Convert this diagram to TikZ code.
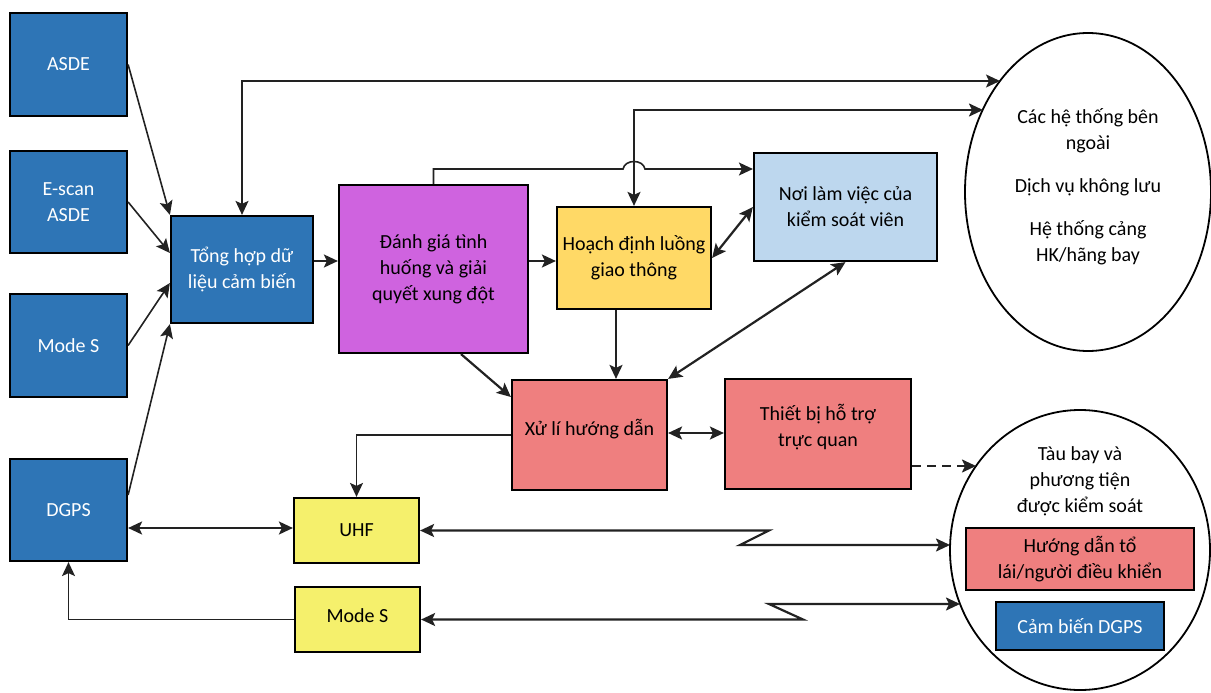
\documentclass[tikz,border=0pt]{standalone}
\usepackage{fontspec}
\setmainfont{Carlito}
\usetikzlibrary{arrows.meta,shapes.geometric,calc}
\definecolor{cblue}{HTML}{2E75B6}
\definecolor{cpurple}{HTML}{CF63DF}
\definecolor{corange}{HTML}{FFD966}
\definecolor{clight}{HTML}{BDD7EE}
\definecolor{csalmon}{HTML}{EF7F7F}
\definecolor{cyellow}{HTML}{F5F06C}
\definecolor{cline}{HTML}{222222}
\begin{document}
\begin{tikzpicture}[x=1pt,y=-1pt,
  >={Stealth[length=14pt,width=13pt,inset=3pt]},
  box/.style={draw=black, line width=2.2pt, inner sep=0pt, align=center,
    font=\fontsize{20}{26}\selectfont},
  bluebox/.style={box, fill=cblue, text=white},
  oval/.style={draw=black, ellipse, line width=1.8pt, inner sep=0pt},
  txt/.style={align=center, font=\fontsize{20}{26}\selectfont, inner sep=0pt},
  conn/.style={draw=cline, line width=2.2pt},
  thinconn/.style={draw=cline, line width=1.6pt}]
\useasboundingbox (0,0) rectangle (1211,693);

% left sensor boxes
\node[bluebox, minimum width=117pt, minimum height=103pt] (asde) at (68.5,64.5) {ASDE};
\node[bluebox, minimum width=117pt, minimum height=102pt] (escan) at (68.5,202) {E-scan\\ASDE};
\node[bluebox, minimum width=117pt, minimum height=103pt] (modesL) at (68.5,345.5) {Mode S};
\node[bluebox, minimum width=117pt, minimum height=102pt] (dgps) at (68.5,510) {DGPS};

% processing boxes
\node[bluebox, minimum width=142pt, minimum height=107pt] (tong) at (242,269.5) {Tổng hợp dữ\\liệu cảm biến};
\node[box, fill=cpurple, minimum width=189pt, minimum height=168pt] (danhgia) at (433.5,269) {Đánh giá tình\\huống và giải\\quyết xung đột};
\node[box, fill=corange, minimum width=154pt, minimum height=102pt] (hoach) at (634,258) {Hoạch định luồng\\giao thông};
\node[box, fill=clight, minimum width=183pt, minimum height=108pt] (noi) at (845.5,207) {Nơi làm việc của\\kiểm soát viên};
\node[box, fill=csalmon, minimum width=155pt, minimum height=110pt, text depth=16pt] (xuli) at (589.5,435) {Xử lí hướng dẫn};
\node[box, fill=csalmon, minimum width=186pt, minimum height=110pt, text depth=18pt] (thietbi) at (818,434) {Thiết bị hỗ trợ\\trực quan};
\node[box, fill=cyellow, minimum width=125pt, minimum height=65pt] (uhf) at (356.5,530.5) {UHF};
\node[box, fill=cyellow, minimum width=125pt, minimum height=65pt, text depth=8pt] (modesB) at (357.5,619.5) {Mode S};

% external ellipses
\node[oval, minimum width=246pt, minimum height=318pt] (ext) at (1088,192) {};
\node[txt] (exttext) at (1088,187) {Các hệ thống bên\\ngoài\\[17pt]Dịch vụ không lưu\\[17pt]Hệ thống cảng\\HK/hãng bay};
\node[oval, minimum width=260pt, minimum height=280pt] (veh) at (1080,550) {};
\node[txt] (vehtext) at (1080,481) {Tàu bay và\\phương tiện\\được kiểm soát};
\node[box, fill=csalmon, minimum width=228pt, minimum height=62pt] (huong) at (1080,559) {Hướng dẫn tổ\\lái/người điều khiển};
\node[bluebox, minimum width=168pt, minimum height=48pt] (cambien) at (1080,626) {Cảm biến DGPS};

% connection points on the ellipses
\coordinate (e1) at (1000,81);
\coordinate (e2) at (983,110);
\coordinate (e3) at (976,466);
\coordinate (e4) at (950,545);
\coordinate (e5) at (960,604);

% sensor inputs
\draw[thinconn,->] (asde.east) -- (tong.north west);
\draw[thinconn,->] (escan.east) -- ($(tong.west)+(0,-16.5)$);
\draw[thinconn,->] (modesL.east) -- ($(tong.west)+(0,13.5)$);
\draw[thinconn,->] ($(dgps.east)+(0,-15)$) -- (tong.south west);

% top links
\draw[thinconn,<->] (tong.north) |- (e1);
\draw[conn,<->] (hoach.north) |- (e2);
\draw[thinconn,->] (danhgia.north) -- (433.5,169) -- (623,169)
  .. controls (625,159) and (643,159) .. (645,169) -- ($(noi.west)+(0,-38)$);

% main flow
\draw[conn,->] ($(tong.east)+(0,-8.5)$) coordinate (t9) -- (t9 -| danhgia.west);
\draw[conn,->] ($(danhgia.east)+(0,-8)$) coordinate (t8) -- (t8 -| hoach.west);
\draw[conn,<->] (hoach.east) -- (noi.west);
\draw[conn,->] ($(hoach.south)+(-18,0)$) coordinate (t11) -- (t11 |- xuli.north);
\draw[conn,<->] (noi.south) -- (xuli.north east);
\draw[conn,->] ($(danhgia.south)+(27.5,0)$) -- ($(xuli.west)+(0,-38)$);
\draw[conn,<->] ($(xuli.east)+(0,-2)$) coordinate (t14) -- (t14 -| thietbi.west);
\draw[thinconn,->] (xuli.west) -| (uhf.north);
\draw[conn,->,dashed,dash pattern=on 9pt off 6pt] ($(thietbi.east)+(0,32)$) -- (e3);

% bottom radio links
\draw[conn,<->] ($(dgps.east)+(0,18)$) coordinate (t17) -- (t17 -| uhf.west);
\draw[conn,<->] (uhf.east) -- (769,530.5) -- (740,545) -- (e4);
\draw[conn,<->] (modesB.east) -- (803,619.5) -- (769,604) -- (e5);
\draw[thinconn,->] (modesB.west) -| (dgps.south);
\end{tikzpicture}
\end{document}
